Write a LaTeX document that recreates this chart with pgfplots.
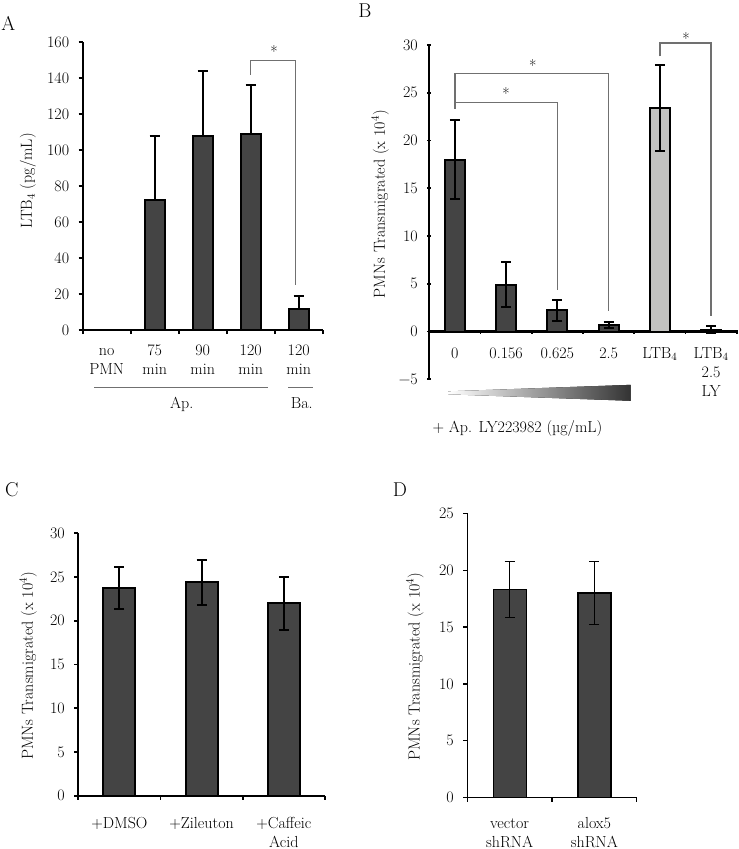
\documentclass[border=0pt]{standalone}
\usepackage{pgfplots}
\pgfplotsset{compat=1.18}
\definecolor{barD}{HTML}{444444}
\definecolor{barL}{HTML}{C2C2C0}
\definecolor{brk}{HTML}{707070}
\newcommand\pfont{\fontsize{16}{19}\selectfont}
\newcommand\Ls{\rule[-5.5pt]{0pt}{19pt}}
\newcommand\tl[1]{{\renewcommand\arraystretch{0}\begin{tabular}{@{}c@{}}#1\end{tabular}}}
\pgfplotsset{
  panel/.style={
    scale only axis, enlargelimits=false, clip=false,
    anchor=south west,
    axis lines=left,
    axis line style={-, line width=2.2pt},
    tick style={line width=1.8pt, black},
    tick align=outside,
    major tick length=4pt, minor tick length=4pt,
    major x tick style={draw=none},
    /pgf/number format/assume math mode=true,
    xticklabel style={font=\pfont, anchor=north},
    yticklabel style={font=\pfont, xshift=-6pt},
    ylabel style={font=\pfont},
    ybar, bar shift=0pt,
  },
  ebars/.style={
    fill=barD, draw=black, line width=2pt,
    /pgfplots/error bars/y dir=#1, /pgfplots/error bars/y explicit,
    /pgfplots/error bars/error bar style={line width=2pt, black},
    /pgfplots/error bars/error mark options={rotate=90, mark size=5pt, line width=2pt, black},
  },
}
\begin{document}
\begin{tikzpicture}
\useasboundingbox (0pt,0pt) rectangle (739pt,-849pt);
\node[font=\fontsize{20}{22}\selectfont] at (8.3pt,-23.3pt) {A};
\node[font=\fontsize{20}{22}\selectfont] at (365pt,-11pt) {B};
\node[font=\fontsize{20}{22}\selectfont] at (11.7pt,-490pt) {C};
\node[font=\fontsize{20}{22}\selectfont] at (400pt,-490pt) {D};

% Panel A
\begin{axis}[panel, at={(82.7pt,-330pt)}, width=240pt, height=288pt,
  xmin=0.5, xmax=5.5, ymin=0, ymax=160, ytick={0,20,...,160},
  xtick={1,...,5}, minor xtick={0.5,1.5,...,5.5},
  xticklabels={{\tl{\Ls no\\\Ls PMN}},{\tl{\Ls 75\\\Ls min}},{\tl{\Ls 90\\\Ls min}},{\tl{\Ls 120\\\Ls min}},{\tl{\Ls 120\\\Ls min}}},
  xticklabel style={yshift=-4.5pt},
  bar width=20pt,
  ylabel={LTB$_4$ (pg/mL)},
  ylabel style={at={(axis description cs:-0.228,0.517)}, anchor=center}]
\addplot[ebars=plus] coordinates {
  (1,0) +- (0,0)
  (2,72.5) +- (0,35.5)
  (3,108) +- (0,36)
  (4,109) +- (0,27)
  (5,11.5) +- (0,7.5)
};
\draw[brk, line width=1.5pt] (axis cs:4,141.7) -- (axis cs:4,149.6) -- (axis cs:4.93,149.6) -- (axis cs:4.93,25);
\node[font=\pfont, anchor=base] at (axis cs:4.485,151.5) {*};
\draw[brk, line width=1.5pt] (axis cs:0.742,-32) -- (axis cs:4.354,-32);
\draw[brk, line width=1.5pt] (axis cs:4.783,-32) -- (axis cs:5.304,-32);
\node[font=\pfont, anchor=base] at (axis cs:2.5625,-43.5) {Ap.};
\node[font=\pfont, anchor=base] at (axis cs:5.0625,-43.5) {Ba.};
\end{axis}

% Panel B
\begin{axis}[panel, at={(429.3pt,-379.3pt)}, width=307.4pt, height=334.3pt,
  axis x line=middle, axis y line=left,
  axis line style={-, line width=2.2pt},
  xmin=0.5, xmax=6.5, ymin=-5, ymax=30, ytick={-5,0,...,30},
  yticklabels={−5,0,5,10,15,20,25,30},
  xtick={1,...,6}, minor xtick={0.5,1.5,...,6.5},
  xticklabels={{\tl{\Ls 0}},{\tl{\Ls 0.156}},{\tl{\Ls 0.625}},{\tl{\Ls 2.5}},{\tl{\Ls LTB$_4$}},{\tl{\Ls LTB$_4$\\\Ls 2.5\\\Ls LY}}},
  xticklabel style={yshift=-7.5pt},
  bar width=20pt,
  ylabel={PMNs Transmigrated (x 10$^4$)},
  ylabel style={at={(axis description cs:-0.160,0.524)}, anchor=center}]
\addplot[ebars=both] coordinates {
  (1,18.0) +- (0,4.1)
  (2,4.9) +- (0,2.35)
  (3,2.25) +- (0,1.1)
  (4,0.7) +- (0,0.35)
  (6,0.2) +- (0,0.35)
};
\addplot[ebars=both, fill=barL] coordinates {
  (5,23.4) +- (0,4.5)
};
\draw[brk, line width=1.5pt] (axis cs:1,23.3) -- (axis cs:1,27.0) -- (axis cs:4,27.0) -- (axis cs:4,2.1);
\draw[brk, line width=1.5pt] (axis cs:1,24.0) -- (axis cs:3,24.0) -- (axis cs:3,4.4);
\draw[brk, line width=1.5pt] (axis cs:5,28.8) -- (axis cs:5,30.2) -- (axis cs:6,30.2) -- (axis cs:6,1.6);
\node[font=\pfont, anchor=base] at (axis cs:2,24.28) {*};
\node[font=\pfont, anchor=base] at (axis cs:2.52,27.25) {*};
\node[font=\pfont, anchor=base] at (axis cs:5.51,30.05) {*};
\fill[left color=white, right color=black!80] (axis cs:0.871,-6.26) -- (axis cs:4.431,-5.58) -- (axis cs:4.431,-7.25) -- (axis cs:0.871,-6.57) -- cycle;
\node[font=\pfont, anchor=base] at (axis cs:2.22,-10.6) {+ Ap. LY223982 (µg/mL)};
\end{axis}

% Panel C
\begin{axis}[panel, at={(78.3pt,-795.7pt)}, width=246.7pt, height=262.4pt,
  xmin=0.5, xmax=3.5, ymin=0, ymax=30, ytick={0,5,...,30},
  xtick={1,...,3}, minor xtick={0.5,1.5,...,3.5},
  xticklabels={{\tl{\Ls +DMSO}},{\tl{\Ls +Zileuton}},{\tl{\Ls +Caffeic\\\Ls Acid}}},
  xticklabel style={yshift=-11.8pt},
  bar width=32pt,
  ylabel={PMNs Transmigrated (x 10$^4$)},
  ylabel style={at={(axis description cs:-0.203,0.495)}, anchor=center}]
\addplot[ebars=both] coordinates {
  (1,23.7) +- (0,2.4)
  (2,24.4) +- (0,2.6)
  (3,22.0) +- (0,3.0)
};
\end{axis}

% Panel D
\begin{axis}[panel, at={(467.3pt,-797.7pt)}, width=169.4pt, height=284.4pt,
  axis line style={-, line width=1.4pt},
  tick style={line width=1.3pt, black},
  xmin=0.5, xmax=2.5, ymin=0, ymax=25, ytick={0,5,...,25},
  xtick={1,2}, minor xtick={0.5,1.5,2.5},
  xticklabels={{\tl{\Ls vector\\\Ls shRNA}},{\tl{\Ls alox5\\\Ls shRNA}}},
  xticklabel style={yshift=-9.8pt},
  bar width=33pt,
  ylabel={PMNs Transmigrated (x 10$^4$)},
  ylabel style={at={(axis description cs:-0.309,0.461)}, anchor=center}]
\addplot[fill=barD, draw=black, line width=1.3pt,
  error bars/.cd, y dir=both, y explicit,
  error bar style={line width=1.3pt, black},
  error mark options={rotate=90, mark size=5pt, line width=1.3pt, black}] coordinates {
  (1,18.3) +- (0,2.45)
  (2,18.0) +- (0,2.75)
};
\end{axis}
\end{tikzpicture}
\end{document}
